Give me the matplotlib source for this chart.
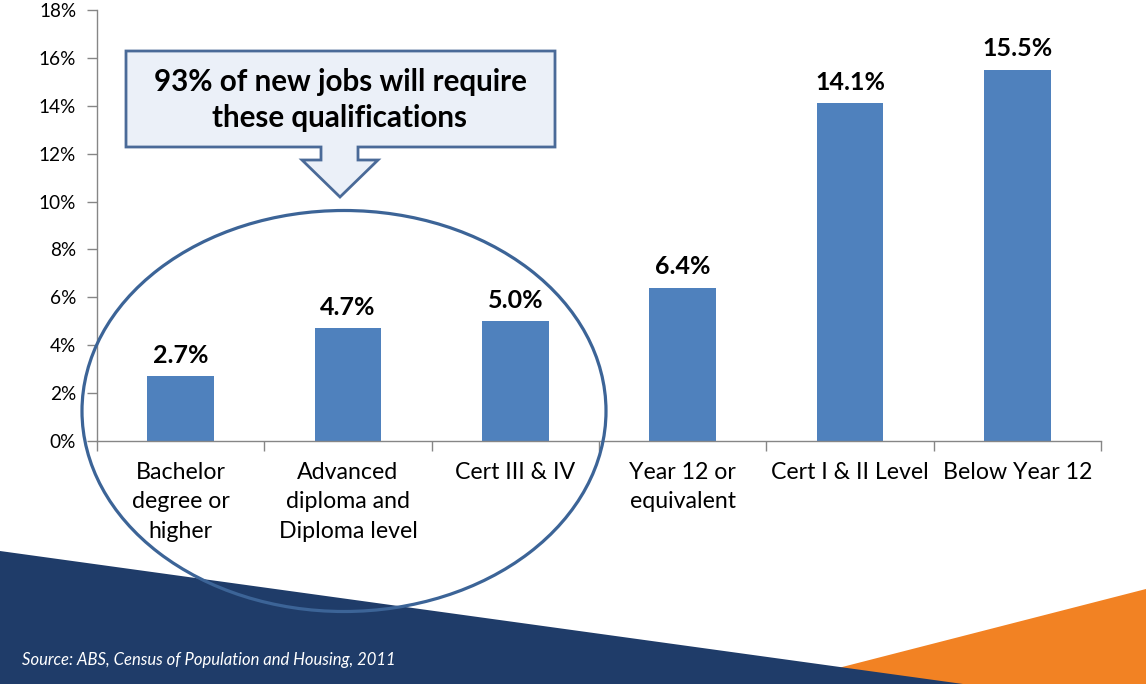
"""Projected job growth by qualification level"""
import numpy as np
import matplotlib.pyplot as plt
from matplotlib.patches import Polygon, Ellipse
from matplotlib.ticker import FuncFormatter

plt.rcParams['font.family'] = ['Lato', 'DejaVu Sans']

# Data
categories = ['Bachelor\ndegree or\nhigher', 'Advanced\ndiploma and\nDiploma level',
              'Cert III & IV', 'Year 12 or\nequivalent', 'Cert I & II Level', 'Below Year 12']
growth = [2.7, 4.7, 5.0, 6.4, 14.1, 15.5]
y_ticks = np.arange(0, 19, 2)
callout_text = '93% of new jobs will require\nthese qualifications'
source_text = 'Source: ABS, Census of Population and Housing, 2011'

W, H = 1146, 684
fig = plt.figure(figsize=(W / 100, H / 100), dpi=100)
fig.patch.set_facecolor('white')

# Background decoration in pixel coordinates
bg = fig.add_axes([0, 0, 1, 1], zorder=0)
bg.set_xlim(0, W)
bg.set_ylim(H, 0)
bg.axis('off')
bg.add_patch(Polygon([(776, H), (W, 589), (W, H)], closed=True, color='#F28223', lw=0))
bg.add_patch(Polygon([(0, 551), (963, H), (0, H)], closed=True, color='#1F3C69', lw=0))
bg.text(22, 660, source_text, color='white', fontsize=12, style='italic', va='center', ha='left')

# Bar chart
ax = fig.add_axes([97 / W, 1 - 441 / H, (1101 - 97) / W, (441 - 10) / H], zorder=1)
ax.patch.set_alpha(0)
x = np.arange(len(categories))
bars = ax.bar(x, growth, width=0.4, color='#4F81BD', zorder=2)
for b, v in zip(bars, growth):
    ax.annotate(f'{v:.1f}%', (b.get_x() + b.get_width() / 2, v), xytext=(0, 7),
                textcoords='offset points', ha='center', va='bottom',
                fontsize=18, fontweight='bold', color='black')

ax.set_xlim(-0.5, len(categories) - 0.5)
ax.set_ylim(0, 18)
ax.set_yticks(y_ticks)
ax.yaxis.set_major_formatter(FuncFormatter(lambda v, p: f'{v:.0f}%'))
ax.set_xticks(x)
ax.set_xticklabels(categories, fontsize=16.7, linespacing=1.5, va='top')
ax.tick_params(axis='x', length=0, pad=15)
ax.set_xticks(np.arange(-0.5, len(categories)), minor=True)
ax.tick_params(axis='x', which='minor', length=7, color='#868686', width=1)
ax.tick_params(axis='y', length=7, color='#868686', width=1, labelsize=13.7, pad=8)
for s in ['top', 'right']:
    ax.spines[s].set_visible(False)
for s in ['left', 'bottom']:
    ax.spines[s].set_color('#868686')
    ax.spines[s].set_linewidth(1)

# Overlay: ellipse and callout arrow
ov = fig.add_axes([0, 0, 1, 1], zorder=3)
ov.set_xlim(0, W)
ov.set_ylim(H, 0)
ov.axis('off')
ov.patch.set_alpha(0)
ov.add_patch(Ellipse((344, 411), 524, 401, fill=False, ec='#3C6497', lw=2.3))
callout = [(126, 51), (555, 51), (555, 147), (358, 147), (358, 160), (378, 160),
           (340, 197), (302, 160), (321, 160), (321, 147), (126, 147)]
ov.add_patch(Polygon(callout, closed=True, fc='#EBF0F8', ec='#4A6A98', lw=2))
ov.text(340, 100, callout_text, ha='center', va='center', fontsize=21.3,
        fontweight='bold', color='black', linespacing=1.33)

plt.savefig('out.png', dpi=100, facecolor='white')
plt.close()
